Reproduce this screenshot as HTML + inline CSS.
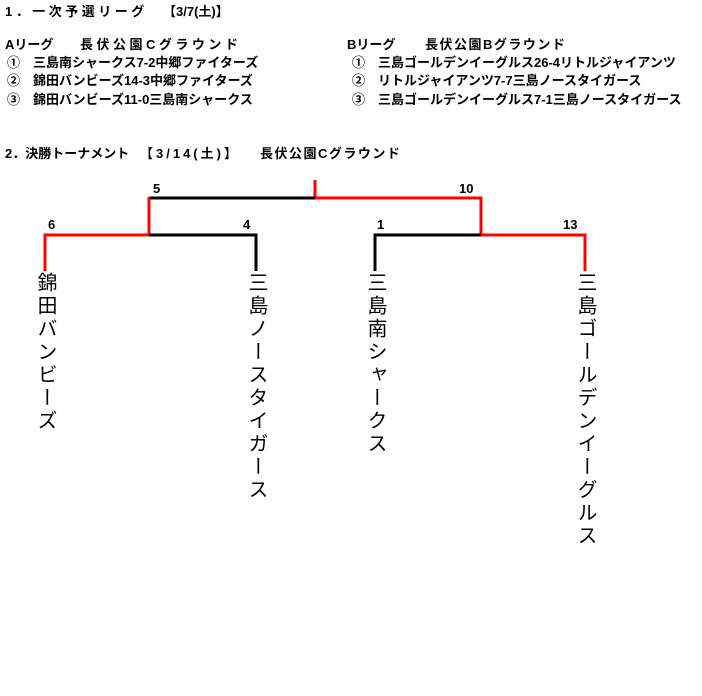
<!DOCTYPE html>
<html><head><meta charset="utf-8"><style>
body{margin:0;background:#fff;width:702px;height:696px;position:relative;overflow:hidden;font-family:"Liberation Sans","Noto Sans CJK JP",sans-serif;}
.t{position:absolute;font-size:13px;font-weight:bold;white-space:nowrap;line-height:16px;color:#000}
.v{position:absolute;writing-mode:vertical-rl;font-size:20px;line-height:20px;letter-spacing:3px;top:272px;color:#000}
.n{position:absolute;font-size:13px;font-weight:bold;line-height:14px}
</style></head><body>
<div class="t" style="left:5px;top:4px;letter-spacing:3.5px">1．一次予選リーグ</div>
<div class="t" style="left:163px;top:4px">【3/7(土)】</div>
<div class="t" style="left:5px;top:37px">Aリーグ</div>
<div class="t" style="left:80px;top:37px;letter-spacing:3.5px">長伏公園Cグラウンド</div>
<div class="t" style="left:7px;top:55px">①　三島南シャークス7-2中郷ファイターズ</div>
<div class="t" style="left:7px;top:73px">②　錦田バンビーズ14-3中郷ファイターズ</div>
<div class="t" style="left:7px;top:92px">③　錦田バンビーズ11-0三島南シャークス</div>
<div class="t" style="left:347px;top:37px">Bリーグ</div>
<div class="t" style="left:425px;top:37px;letter-spacing:1.5px">長伏公園Bグラウンド</div>
<div class="t" style="left:352px;top:55px">①　三島ゴールデンイーグルス26-4リトルジャイアンツ</div>
<div class="t" style="left:352px;top:73px">②　リトルジャイアンツ7-7三島ノースタイガース</div>
<div class="t" style="left:352px;top:92px">③　三島ゴールデンイーグルス7-1三島ノースタイガース</div>
<div class="t" style="left:5px;top:146px">2．決勝トーナメント</div>
<div class="t" style="left:140px;top:146px;letter-spacing:3px">【3/14(土)】</div>
<div class="t" style="left:260px;top:146px;letter-spacing:1.5px">長伏公園Cグラウンド</div>
<svg width="702" height="696" style="position:absolute;left:0;top:0" fill="none" stroke-width="3">
<path d="M315 180V198H481V235" stroke="#f00"/>
<path d="M315 198H149" stroke="#000"/>
<path d="M149 197V235H45V271" stroke="#f00"/>
<path d="M149 235H256V271" stroke="#000"/>
<path d="M481 235H375V271" stroke="#000"/>
<path d="M481 235H585V271" stroke="#f00"/>
</svg>
<div class="n" style="left:153px;top:182px">5</div>
<div class="n" style="left:459px;top:182px">10</div>
<div class="n" style="left:48px;top:218px">6</div>
<div class="n" style="left:243px;top:218px">4</div>
<div class="n" style="left:377px;top:218px">1</div>
<div class="n" style="left:563px;top:218px">13</div>
<div class="v" style="left:35px">錦田バンビーズ</div>
<div class="v" style="left:246px">三島ノースタイガース</div>
<div class="v" style="left:365px">三島南シャークス</div>
<div class="v" style="left:575px">三島ゴールデンイーグルス</div>
</body></html>
